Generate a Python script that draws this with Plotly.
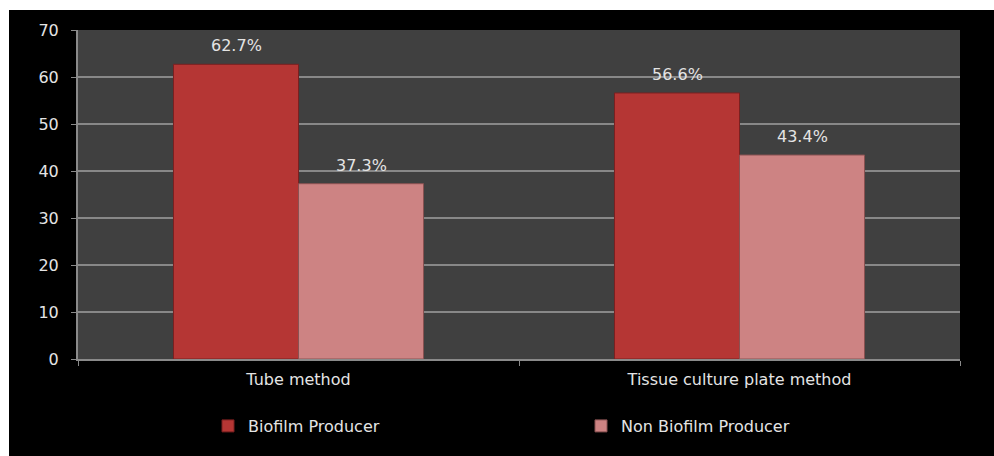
import plotly.graph_objects as go

categories = ["Tube method", "Tissue culture plate method"]
biofilm = [62.7, 56.6]
non_biofilm = [37.3, 43.4]
biofilm_labels = ["62.7%", "56.6%"]
non_biofilm_labels = ["37.3%", "43.4%"]
y_ticks = [0, 10, 20, 30, 40, 50, 60, 70]

FONT = "DejaVu Sans"
TXT = "#e4e4e4"

fig = go.Figure()
fig.add_trace(go.Bar(
    x=categories, y=biofilm, name="Biofilm Producer",
    marker=dict(color="#b53634", line=dict(color="#7a2020", width=1)),
    legend="legend",
))
fig.add_trace(go.Bar(
    x=categories, y=non_biofilm, name="Non Biofilm Producer",
    marker=dict(color="#cd8383", line=dict(color="#8a5252", width=1)),
    legend="legend2",
))

W, H = 994, 456
L, R, T, B = 78, 34, 30, 97
pw, ph = W - L - R, H - T - B

def px_x(p):
    return (p - L) / pw

def px_y(p):
    return (H - B - p) / ph

annotations = []
for cat, v, lab in zip(categories, biofilm, biofilm_labels):
    annotations.append(dict(x=cat, y=v, text=lab, xref="x", yref="y",
                            xshift=-62.5, yshift=7, yanchor="bottom",
                            showarrow=False,
                            font=dict(family=FONT, size=16, color=TXT)))
for cat, v, lab in zip(categories, non_biofilm, non_biofilm_labels):
    annotations.append(dict(x=cat, y=v, text=lab, xref="x", yref="y",
                            xshift=62.5, yshift=7, yanchor="bottom",
                            showarrow=False,
                            font=dict(family=FONT, size=16, color=TXT)))

fig.update_layout(
    width=W, height=H,
    margin=dict(l=L, r=R, t=T, b=B),
    paper_bgcolor="black",
    plot_bgcolor="#404040",
    bargap=0.433, bargroupgap=0,
    font=dict(family=FONT, size=16, color=TXT),
    showlegend=True,
    legend=dict(orientation="h", x=px_x(208), y=px_y(426), yanchor="middle",
                xanchor="left", bgcolor="rgba(0,0,0,0)",
                font=dict(family=FONT, size=16, color=TXT)),
    legend2=dict(orientation="h", x=px_x(581), y=px_y(426), yanchor="middle",
                 xanchor="left", bgcolor="rgba(0,0,0,0)",
                 font=dict(family=FONT, size=16, color=TXT)),
    xaxis=dict(
        type="category", tickson="boundaries", ticks="outside", ticklen=5,
        tickcolor="#8a8a8a", showline=True, linecolor="#8a8a8a", linewidth=2,
        showgrid=False, tickfont=dict(family=FONT, size=16, color=TXT),
        ticklabelstandoff=5,
    ),
    yaxis=dict(
        range=[0, 70], tickvals=y_ticks, ticks="outside", ticklen=5,
        tickcolor="#8a8a8a", showline=True, linecolor="#8a8a8a", linewidth=2,
        gridcolor="#888888", gridwidth=1.8, zeroline=False,
        tickfont=dict(family=FONT, size=16, color=TXT),
        ticklabelstandoff=9,
    ),
    annotations=annotations,
    shapes=[
        dict(type="rect", xref="paper", yref="paper",
             x0=-0.3, x1=1.3, y0=px_y(10), y1=1.3,
             fillcolor="white", line=dict(width=0), layer="above"),
        dict(type="rect", xref="paper", yref="paper",
             x0=-0.3, x1=px_x(9), y0=-0.5, y1=1.3,
             fillcolor="white", line=dict(width=0), layer="above"),
    ],
)

fig.write_html("out.html")
